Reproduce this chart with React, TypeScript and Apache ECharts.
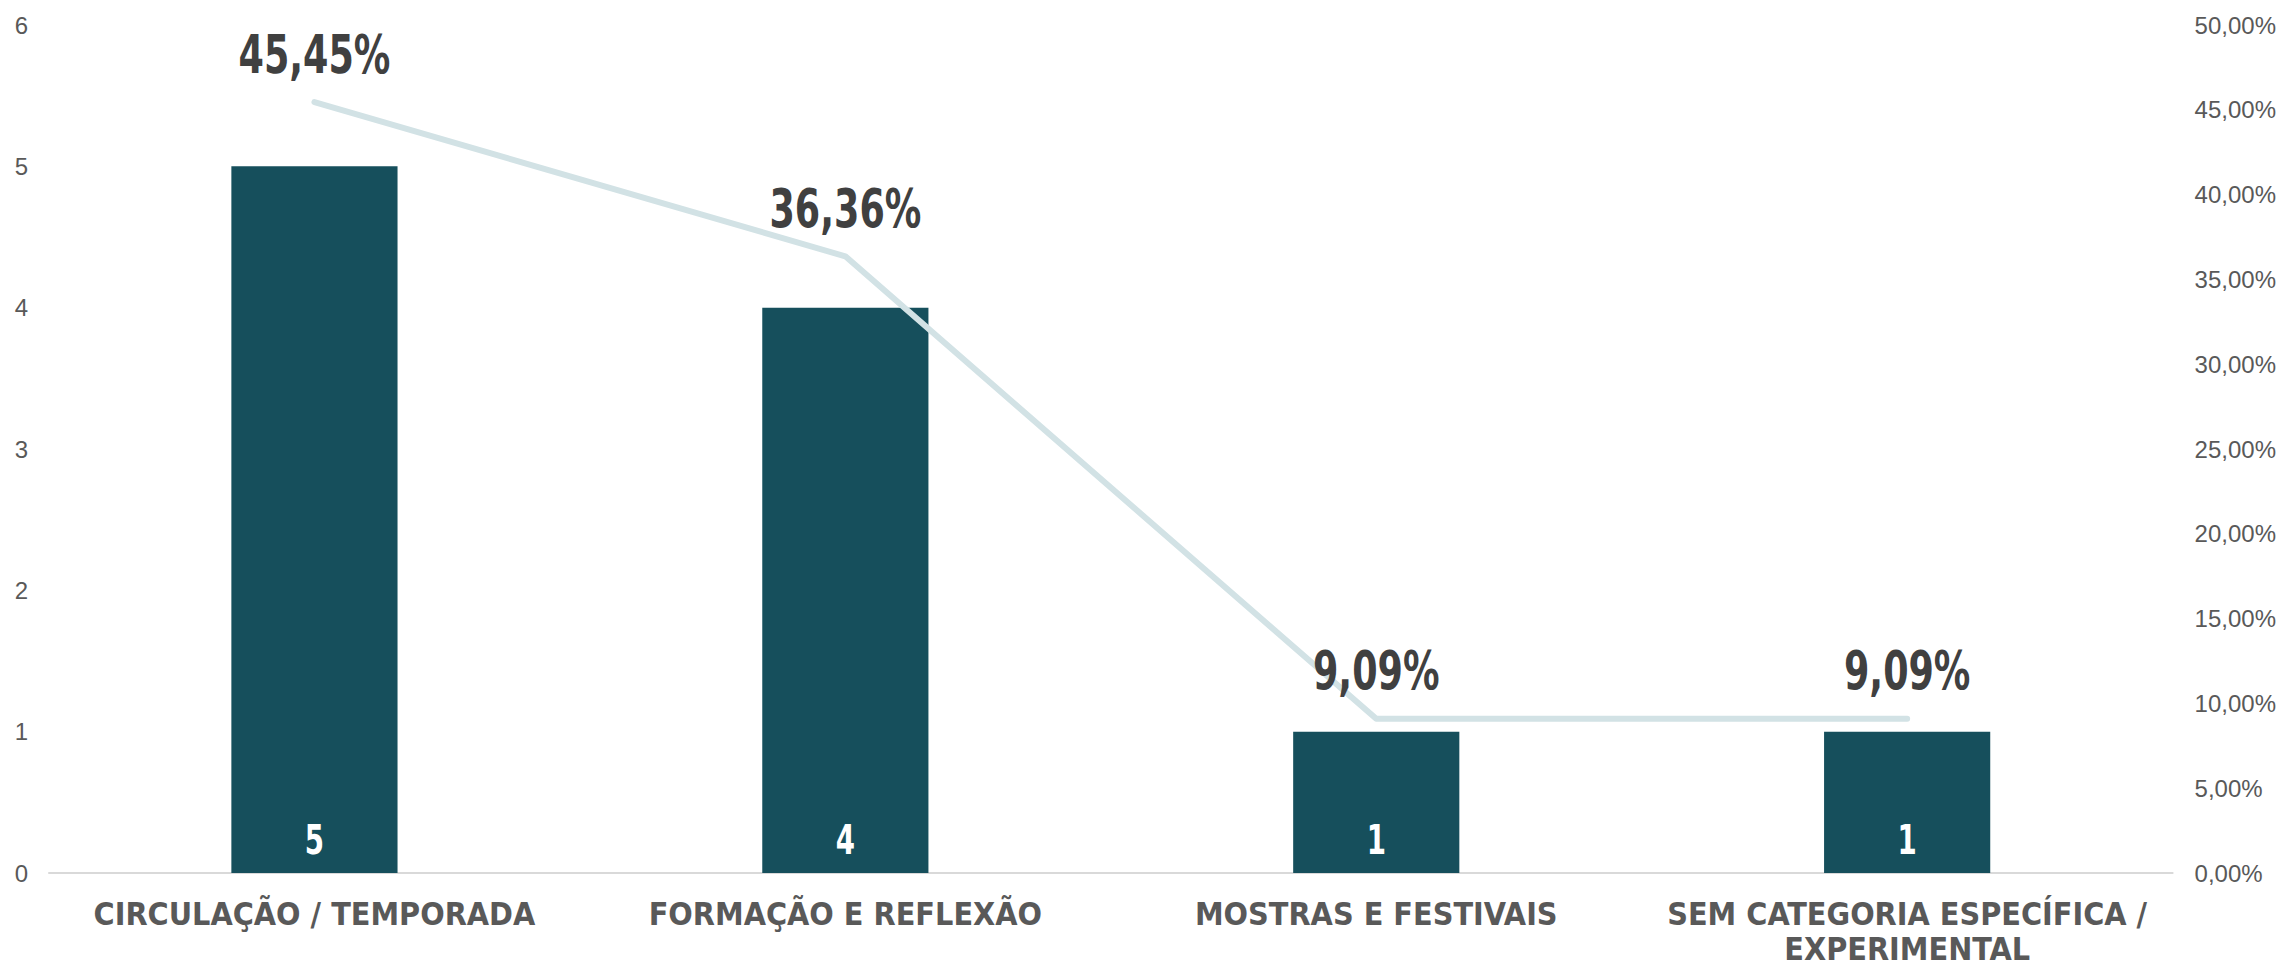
import React, { useEffect, useRef } from "react";
import * as echarts from "echarts";

const categories = [
  "CIRCULAÇÃO / TEMPORADA",
  "FORMAÇÃO E REFLEXÃO",
  "MOSTRAS E FESTIVAIS",
  "SEM CATEGORIA ESPECÍFICA /\nEXPERIMENTAL",
];
const counts = [5, 4, 1, 1];
const shares = [45.45, 36.36, 9.09, 9.09];

const COND = "'DejaVu Sans Condensed', 'DejaVu Sans', sans-serif";
const REG = "'Liberation Sans', Arial, sans-serif";

const fmtPct = (v: number) => v.toFixed(2).replace(".", ",") + "%";

export default function App() {
  const ref = useRef<HTMLDivElement>(null);
  useEffect(() => {
    if (!ref.current) return;
    const chart = echarts.init(ref.current, undefined, { renderer: "svg" });
    chart.setOption({
      animation: false,
      backgroundColor: "#ffffff",
      grid: { left: 49, right: 106, top: 25, bottom: 87, containLabel: false },
      xAxis: {
        type: "category",
        data: categories,
        axisLine: { lineStyle: { color: "#d9d9d9", width: 2 } },
        axisTick: { show: false },
        axisLabel: {
          color: "#595959",
          fontFamily: COND,
          fontWeight: "bold",
          fontSize: 32,
          lineHeight: 35,
          margin: 23,
          interval: 0,
        },
      },
      yAxis: [
        {
          type: "value",
          min: 0,
          max: 6,
          interval: 1,
          splitLine: { show: false },
          axisLine: { show: false },
          axisTick: { show: false },
          axisLabel: { color: "#595959", fontFamily: REG, fontSize: 24, margin: 21 },
        },
        {
          type: "value",
          min: 0,
          max: 50,
          interval: 5,
          position: "right",
          splitLine: { show: false },
          axisLine: { show: false },
          axisTick: { show: false },
          axisLabel: {
            color: "#595959",
            fontFamily: REG,
            fontSize: 24,
            margin: 22,
            formatter: (v: number) => fmtPct(v),
          },
        },
      ],
      series: [
        {
          type: "bar",
          data: counts,
          yAxisIndex: 0,
          barWidth: "31.3%",
          itemStyle: { color: "#164f5c" },
        },
        {
          type: "line",
          data: shares,
          yAxisIndex: 1,
          symbol: "none",
          itemStyle: { color: "#d2e2e5" },
          lineStyle: { color: "#d2e2e5", width: 6, cap: "round", join: "round" },
          z: 3,
        },
        {
          type: "custom",
          yAxisIndex: 0,
          data: counts.map((v, i) => [i, v]),
          silent: true,
          z: 6,
          renderItem: (params: any, api: any) => {
            const p = api.coord([api.value(0), 0]);
            return {
              type: "text",
              x: p[0],
              y: p[1] - 33,
              scaleX: 0.75,
              style: {
                text: String(api.value(1)),
                fill: "#ffffff",
                fontFamily: COND,
                fontWeight: "bold",
                fontSize: 41,
                align: "center",
                verticalAlign: "middle",
              },
            };
          },
        },
        {
          type: "custom",
          yAxisIndex: 1,
          data: shares.map((v, i) => [i, v]),
          silent: true,
          z: 6,
          renderItem: (params: any, api: any) => {
            const p = api.coord([api.value(0), api.value(1)]);
            return {
              type: "text",
              x: p[0],
              y: p[1] - 48,
              scaleX: 0.765,
              style: {
                text: fmtPct(api.value(1)),
                fill: "#404040",
                fontFamily: COND,
                fontWeight: "bold",
                fontSize: 53,
                align: "center",
                verticalAlign: "middle",
              },
            };
          },
        },
      ],
    });
    return () => chart.dispose();
  }, []);
  return (
    <div
      ref={ref}
      style={{ position: "fixed", left: 0, top: 0, width: 2279, height: 966, background: "#fff" }}
    />
  );
}
